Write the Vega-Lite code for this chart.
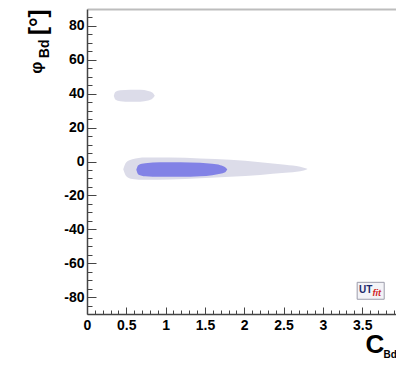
{
  "$schema": "https://vega.github.io/schema/vega-lite/v6.json",
  "width": 309,
  "height": 305,
  "autosize": {"type": "none"},
  "padding": {"left": 87, "top": 9, "right": 0, "bottom": 53},
  "background": "white",
  "config": {
    "view": {"stroke": null},
    "axis": {
      "grid": false,
      "labelFont": "Liberation Sans",
      "labelFontWeight": "bold",
      "labelFontSize": 14,
      "labelColor": "#000",
      "titleFont": "Liberation Sans",
      "titleFontWeight": "bold",
      "titleColor": "#000",
      "domainColor": "#444",
      "tickColor": "#444",
      "labelFlush": false,
      "labelOverlap": false
    }
  },
  "datasets": {
    "contours": [
      {"shape": "main", "level": "outer", "x": 0.461, "lo": -4.6, "hi": -4.6},
      {"shape": "main", "level": "outer", "x": 0.500, "lo": -8.7, "hi": -0.5},
      {"shape": "main", "level": "outer", "x": 0.576, "lo": -10.3, "hi": 1.3},
      {"shape": "main", "level": "outer", "x": 0.741, "lo": -10.8, "hi": 2.3},
      {"shape": "main", "level": "outer", "x": 1.059, "lo": -10.6, "hi": 2.3},
      {"shape": "main", "level": "outer", "x": 1.440, "lo": -9.9, "hi": 1.8},
      {"shape": "main", "level": "outer", "x": 1.822, "lo": -9.0, "hi": 1.0},
      {"shape": "main", "level": "outer", "x": 2.203, "lo": -7.9, "hi": -0.4},
      {"shape": "main", "level": "outer", "x": 2.521, "lo": -6.7, "hi": -1.9},
      {"shape": "main", "level": "outer", "x": 2.712, "lo": -5.8, "hi": -3.1},
      {"shape": "main", "level": "outer", "x": 2.801, "lo": -4.6, "hi": -4.3},
      {"shape": "side", "level": "outer", "x": 0.341, "lo": 38.8, "hi": 38.8},
      {"shape": "side", "level": "outer", "x": 0.360, "lo": 36.6, "hi": 41.0},
      {"shape": "side", "level": "outer", "x": 0.423, "lo": 35.6, "hi": 42.0},
      {"shape": "side", "level": "outer", "x": 0.550, "lo": 35.2, "hi": 42.4},
      {"shape": "side", "level": "outer", "x": 0.678, "lo": 35.3, "hi": 42.3},
      {"shape": "side", "level": "outer", "x": 0.779, "lo": 36.0, "hi": 41.6},
      {"shape": "side", "level": "outer", "x": 0.830, "lo": 37.0, "hi": 40.7},
      {"shape": "side", "level": "outer", "x": 0.862, "lo": 38.8, "hi": 38.8},
      {"shape": "core", "level": "inner", "x": 0.627, "lo": -4.9, "hi": -4.9},
      {"shape": "core", "level": "inner", "x": 0.652, "lo": -7.6, "hi": -2.2},
      {"shape": "core", "level": "inner", "x": 0.741, "lo": -8.7, "hi": -1.1},
      {"shape": "core", "level": "inner", "x": 0.932, "lo": -9.0, "hi": -0.5},
      {"shape": "core", "level": "inner", "x": 1.186, "lo": -9.0, "hi": -0.5},
      {"shape": "core", "level": "inner", "x": 1.440, "lo": -8.7, "hi": -0.8},
      {"shape": "core", "level": "inner", "x": 1.593, "lo": -8.1, "hi": -1.4},
      {"shape": "core", "level": "inner", "x": 1.695, "lo": -7.3, "hi": -2.2},
      {"shape": "core", "level": "inner", "x": 1.758, "lo": -6.4, "hi": -3.4},
      {"shape": "core", "level": "inner", "x": 1.784, "lo": -4.6, "hi": -4.6}
    ]
  },
  "layer": [
    {
      "data": {"name": "contours"},
      "transform": [{"filter": "datum.level === 'outer'"}],
      "mark": {"type": "area", "interpolate": "monotone", "color": "#dcdce9"},
      "encoding": {
        "x": {
          "field": "x", "type": "quantitative",
          "scale": {"domain": [0, 3.93], "nice": false, "zero": false},
          "axis": {
            "orient": "bottom",
            "values": [0, 0.5, 1, 1.5, 2, 2.5, 3, 3.5],
            "format": "~g",
            "tickSize": -7,
            "labelPadding": 11,
            "domainWidth": 1.5,
            "title": "C",
            "titleFontSize": 26,
            "titleAlign": "left",
            "titleBaseline": "alphabetic",
            "titleAngle": 0,
            "titleX": 278,
            "titleY": 38
          }
        },
        "y": {
          "field": "lo", "type": "quantitative",
          "scale": {"domain": [-90, 90], "nice": false, "zero": false},
          "axis": {
            "orient": "left",
            "values": [-80, -60, -40, -20, 0, 20, 40, 60, 80],
            "labelExpr": "datum.value < 0 ? '-' + abs(datum.value) : '' + datum.value",
            "tickSize": -9,
            "labelPadding": 12,
            "domainWidth": 1.5,
            "title": "φ",
            "titleFontSize": 17,
            "titleAngle": -90,
            "titleAlign": "right",
            "titleBaseline": "middle",
            "titleX": -51,
            "titleY": 52
          }
        },
        "y2": {"field": "hi"},
        "detail": {"field": "shape"}
      }
    },
    {
      "data": {"name": "contours"},
      "transform": [{"filter": "datum.level === 'inner'"}],
      "mark": {"type": "area", "interpolate": "monotone", "color": "#8282e6"},
      "encoding": {
        "x": {
          "field": "x", "type": "quantitative",
          "scale": {"domain": [0, 3.93], "nice": false, "zero": false},
          "axis": null
        },
        "y": {
          "field": "lo", "type": "quantitative",
          "scale": {"domain": [-90, 90], "nice": false, "zero": false},
          "axis": {
            "orient": "left",
            "domain": false,
            "ticks": false,
            "labels": false,
            "title": "[°]",
            "titleFontSize": 24,
            "titleAngle": -90,
            "titleAlign": "right",
            "titleBaseline": "middle",
            "titleX": -49,
            "titleY": 0
          }
        },
        "y2": {"field": "hi"}
      }
    },
    {
      "data": {"name": "contours"},
      "mark": {"type": "point", "opacity": 0},
      "encoding": {
        "x": {
          "field": "x", "type": "quantitative",
          "scale": {"domain": [0, 3.93], "nice": false, "zero": false},
          "axis": {
            "orient": "bottom",
            "values": [0.1, 0.2, 0.3, 0.4, 0.6, 0.7, 0.8, 0.9, 1.1, 1.2, 1.3, 1.4, 1.6, 1.7, 1.8, 1.9, 2.1, 2.2, 2.3, 2.4, 2.6, 2.7, 2.8, 2.9, 3.1, 3.2, 3.3, 3.4, 3.6, 3.7, 3.8, 3.9],
            "tickSize": -4,
            "labels": false,
            "domain": false,
            "title": "Bd",
            "titleFontSize": 10,
            "titleAlign": "left",
            "titleBaseline": "alphabetic",
            "titleAngle": 0,
            "titleX": 296,
            "titleY": 43
          }
        },
        "y": {
          "field": "lo", "type": "quantitative",
          "scale": {"domain": [-90, 90], "nice": false, "zero": false},
          "axis": {
            "orient": "left",
            "values": [-85, -75, -70, -65, -55, -50, -45, -35, -30, -25, -15, -10, -5, 5, 10, 15, 25, 30, 35, 45, 50, 55, 65, 70, 75, 85],
            "tickSize": -5,
            "labels": false,
            "domain": false,
            "title": "Bd",
            "titleFontSize": 14,
            "titleAngle": -90,
            "titleAlign": "right",
            "titleBaseline": "middle",
            "titleX": -43,
            "titleY": 30
          }
        }
      }
    },
    {
      "data": {"name": "contours"},
      "mark": {"type": "point", "opacity": 0},
      "encoding": {
        "x": {
          "field": "x", "type": "quantitative",
          "scale": {"domain": [0, 3.93], "nice": false, "zero": false},
          "axis": {
            "orient": "top",
            "domainColor": "#bdbdbd",
            "domainWidth": 2,
            "ticks": false,
            "labels": false,
            "title": null
          }
        },
        "y": {
          "field": "lo", "type": "quantitative",
          "scale": {"domain": [-90, 90], "nice": false, "zero": false},
          "axis": null
        }
      }
    },
    {
      "data": {"values": [{"name": "UTfit"}]},
      "mark": {"type": "rect", "fill": "#f3f3f7", "stroke": "#9c9cab", "strokeWidth": 1},
      "encoding": {
        "x": {"datum": 3.436, "type": "quantitative", "scale": {"domain": [0, 3.93], "nice": false, "zero": false}, "axis": null},
        "x2": {"datum": 3.78},
        "y": {"datum": -71.3, "type": "quantitative", "scale": {"domain": [-90, 90], "nice": false, "zero": false}, "axis": null},
        "y2": {"datum": -81.3}
      }
    },
    {
      "data": {"values": [{"name": "UTfit"}]},
      "mark": {"type": "text", "text": "UT", "font": "Liberation Sans", "fontWeight": "bold", "fontSize": 10, "fill": "#1c2a6b", "align": "center", "baseline": "middle"},
      "encoding": {
        "x": {"datum": 3.545, "type": "quantitative", "scale": {"domain": [0, 3.93], "nice": false, "zero": false}, "axis": null},
        "y": {"datum": -75.8, "type": "quantitative", "scale": {"domain": [-90, 90], "nice": false, "zero": false}, "axis": null}
      }
    },
    {
      "data": {"values": [{"name": "UTfit"}]},
      "mark": {"type": "text", "text": "fit", "font": "Liberation Sans", "fontWeight": "bold", "fontStyle": "italic", "fontSize": 9, "fill": "#d02424", "align": "center", "baseline": "middle"},
      "encoding": {
        "x": {"datum": 3.685, "type": "quantitative", "scale": {"domain": [0, 3.93], "nice": false, "zero": false}, "axis": null},
        "y": {"datum": -77.8, "type": "quantitative", "scale": {"domain": [-90, 90], "nice": false, "zero": false}, "axis": null}
      }
    }
  ],
  "resolve": {"axis": {"x": "independent", "y": "independent"}}
}
